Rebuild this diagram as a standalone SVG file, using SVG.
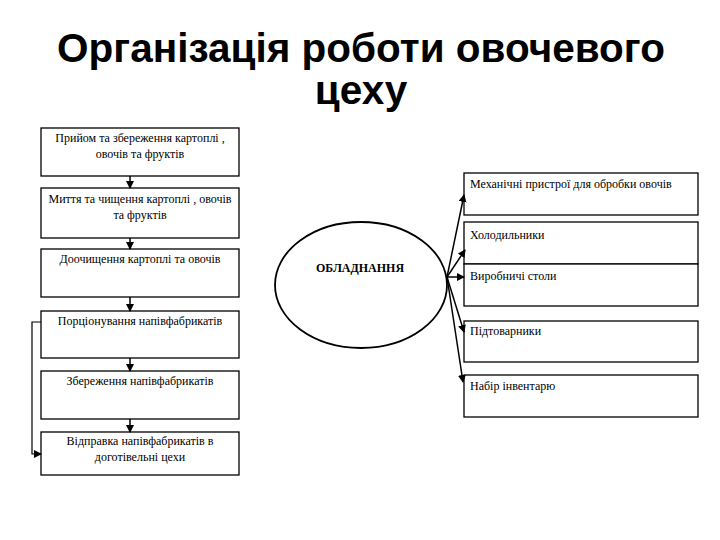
<svg xmlns="http://www.w3.org/2000/svg" width="720" height="540" viewBox="0 0 720 540">
<style>
.title{font-family:"Liberation Sans",Arial,sans-serif;font-weight:bold;font-size:40.5px;fill:#000;text-anchor:middle}
.box{fill:#fff;stroke:#000;stroke-width:1.3}
.t{font-family:"Liberation Serif",serif;font-size:12px;fill:#000}
.c{text-anchor:middle}
.edge{fill:none;stroke:#000;stroke-width:1.5}
</style>
<defs>
<marker id="ah" markerWidth="8" markerHeight="8" refX="7" refY="4" orient="auto" markerUnits="userSpaceOnUse">
<path d="M0,0 L8,4 L0,8 z" fill="#000"/>
</marker>
</defs>
<rect width="720" height="540" fill="#fff"/>
<text class="title" x="361" y="62">Організація роботи овочевого</text>
<text class="title" x="361" y="104">цеху</text>

<g id="n1"><rect class="box" x="41" y="128" width="198" height="48"/>
<text class="t c" x="140" y="142">Прийом та збереження картоплі ,</text>
<text class="t c" x="140" y="158">овочів та фруктів</text></g>
<g id="n2"><rect class="box" x="41" y="188" width="198" height="50"/>
<text class="t c" x="140" y="203">Миття та чищення картоплі , овочів</text>
<text class="t c" x="140" y="219">та фруктів</text></g>
<g id="n3"><rect class="box" x="41" y="249" width="198" height="48"/>
<text class="t c" x="140" y="263">Доочищення картоплі та овочів</text></g>
<g id="n4"><rect class="box" x="41" y="311" width="198" height="47"/>
<text class="t c" x="140" y="325">Порціонування напівфабрикатів</text></g>
<g id="n5"><rect class="box" x="41" y="371" width="198" height="48"/>
<text class="t c" x="140" y="385">Збереження напівфабрикатів</text></g>
<g id="n6"><rect class="box" x="41" y="432" width="198" height="43"/>
<text class="t c" x="140" y="445">Відправка напівфабрикатів в</text>
<text class="t c" x="140" y="461">доготівельні цехи</text></g>

<g id="eq"><ellipse cx="361" cy="285" rx="86" ry="63" fill="#fff" stroke="#000" stroke-width="1.8"/>
<text class="t c" x="360" y="272" style="font-weight:bold">ОБЛАДНАННЯ</text></g>

<g id="r1"><rect class="box" x="464" y="173" width="234" height="42"/>
<text class="t" x="470" y="188">Механічні пристрої для обробки овочів</text></g>
<g id="r2"><rect class="box" x="464" y="222" width="234" height="42"/>
<text class="t" x="470" y="239">Холодильники</text></g>
<g id="r3"><rect class="box" x="464" y="264" width="234" height="42"/>
<text class="t" x="470" y="280">Виробничі столи</text></g>
<g id="r4"><rect class="box" x="464" y="321" width="234" height="41"/>
<text class="t" x="470" y="335">Підтоварники</text></g>
<g id="r5"><rect class="box" x="464" y="375" width="234" height="42"/>
<text class="t" x="470" y="390">Набір інвентарю</text></g>

<g id="connectors">
<line class="edge" x1="130" y1="176" x2="130" y2="188" marker-end="url(#ah)"/>
<line class="edge" x1="130" y1="238" x2="130" y2="249" marker-end="url(#ah)"/>
<line class="edge" x1="130" y1="297" x2="130" y2="311" marker-end="url(#ah)"/>
<line class="edge" x1="130" y1="358" x2="130" y2="371" marker-end="url(#ah)"/>
<line class="edge" x1="130" y1="419" x2="130" y2="432" marker-end="url(#ah)"/>
<polyline class="edge" style="stroke-width:1.2" points="41,322 32,322 32,454 41,454" marker-end="url(#ah)"/>
<line class="edge" x1="447" y1="277" x2="464" y2="195" marker-end="url(#ah)"/>
<line class="edge" x1="447" y1="277" x2="465" y2="250" marker-end="url(#ah)"/>
<line class="edge" x1="447" y1="277" x2="464" y2="277" marker-end="url(#ah)"/>
<line class="edge" x1="447" y1="277" x2="464" y2="332" marker-end="url(#ah)"/>
<line class="edge" x1="447" y1="277" x2="463" y2="382" marker-end="url(#ah)"/>
</g>
</svg>
